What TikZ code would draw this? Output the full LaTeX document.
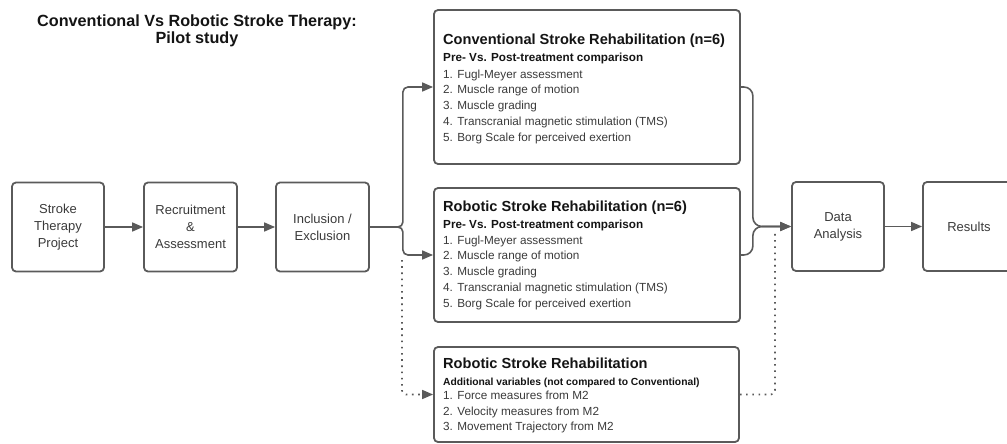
\documentclass[tikz,border=0pt]{standalone}
\usepackage{fontspec}
\setmainfont{Liberation Sans}
\usetikzlibrary{arrows.meta}
\definecolor{edge}{HTML}{5A5A5A}
\definecolor{txt}{HTML}{3A3A3A}
\definecolor{head}{HTML}{141414}
\begin{document}
\begin{tikzpicture}[x=1pt,y=-1pt,
  box/.style={draw=edge, line width=1.8pt, rounded corners=4pt, inner sep=0pt},
  smallbox/.style={box, minimum width=92pt, minimum height=89pt, text=txt, align=center, font=\fontsize{13}{17}\selectfont},
  line/.style={draw=edge, line width=1.6pt},
  conn/.style={line, -{Triangle[length=11pt,width=9pt]}},
  dotline/.style={draw=edge, line width=1.6pt, dash pattern=on 1.6pt off 4.6pt},
  dotconn/.style={dotline, -{Triangle[length=11pt,width=9pt]}},
  titletext/.style={anchor=base, text=head, font=\fontsize{16.2}{18}\selectfont\bfseries, inner sep=0pt},
  heading/.style={anchor=base west, text=head, font=\fontsize{14.6}{17}\selectfont\bfseries, inner sep=0pt},
  subhead/.style={anchor=base west, text=head, font=\fontsize{11.7}{14}\selectfont\bfseries, inner sep=0pt},
  subheadsmall/.style={anchor=base west, text=head, font=\fontsize{10.3}{12}\selectfont\bfseries, inner sep=0pt},
  item/.style={anchor=base west, text=txt, font=\fontsize{11.75}{14}\selectfont, inner sep=0pt}
]
\useasboundingbox (0,0) rectangle (1007,444);

% title
\node[titletext] (t1) at (197,27) {Conventional Vs Robotic Stroke Therapy:};
\node[titletext] (t2) at (197,44) {Pilot study};

% small boxes
\node[smallbox] (s1) at (58,227) {Stroke\\Therapy\\Project};
\node[smallbox, minimum width=93pt] (s2) at (190.5,227) {Recruitment\\\&\\Assessment};
\node[smallbox, minimum width=93pt] (s3) at (322.5,227) {Inclusion /\\Exclusion};
\node[smallbox] (da) at (838,226.5) {Data\\Analysis};
\node[smallbox] (res) at (969,226.5) {Results};

% big boxes
\node[box, minimum width=306pt, minimum height=154pt] (conv) at (587,87) {};
\node[box, minimum width=306pt, minimum height=134pt] (rob) at (587,255) {};
\node[box, minimum width=305pt, minimum height=95pt] (add) at (586.5,394.5) {};

% conventional text
\node[heading] (ch) at (443,45) {Conventional Stroke Rehabilitation (n=6)};
\node[subhead] (cs) at (443,62) {Pre- Vs. Post-treatment comparison};
\foreach \t [count=\i] in {Fugl-Meyer assessment, Muscle range of motion, Muscle grading, Transcranial magnetic stimulation (TMS), Borg Scale for perceived exertion}
  \node[item] (c\i) at (443,{78+15.9*(\i-1)}) {\i. \t};

% robotic text
\node[heading] (rh) at (443,211) {Robotic Stroke Rehabilitation (n=6)};
\node[subhead] (rs) at (443,228) {Pre- Vs. Post-treatment comparison};
\foreach \t [count=\i] in {Fugl-Meyer assessment, Muscle range of motion, Muscle grading, Transcranial magnetic stimulation (TMS), Borg Scale for perceived exertion}
  \node[item] (r\i) at (443,{244+15.9*(\i-1)}) {\i. \t};

% additional text
\node[heading] (ah) at (443,368) {Robotic Stroke Rehabilitation};
\node[subheadsmall] (as) at (443,385) {Additional variables (not compared to Conventional)};
\foreach \t [count=\i] in {Force measures from M2, Velocity measures from M2, Movement Trajectory from M2}
  \node[item] (a\i) at (443,{399.5+15.7*(\i-1)}) {\i. \t};

% connectors
\draw[conn] (s1) -- (s2);
\draw[conn] (s2) -- (s3);
\draw[conn, rounded corners=5pt] (s3.east) -- ++(33,0) |- (conv.west);
\draw[conn, rounded corners=5pt] (s3.east) -- ++(33,0) |- (rob.west);
\draw[conn, rounded corners=9pt] (conv.east) -- ++(12,0) |- (da.west);
\draw[conn, rounded corners=9pt] (rob.east) -- ++(12,0) |- (da.west);
\draw[conn] (da) -- (res);

\coordinate (dl) at (402,260);
\coordinate (dr) at (775,232);
\draw[dotconn, rounded corners=4pt] (dl) |- (add.west);
\draw[dotline, rounded corners=4pt] (add.east) -| (dr);
\end{tikzpicture}
\end{document}
